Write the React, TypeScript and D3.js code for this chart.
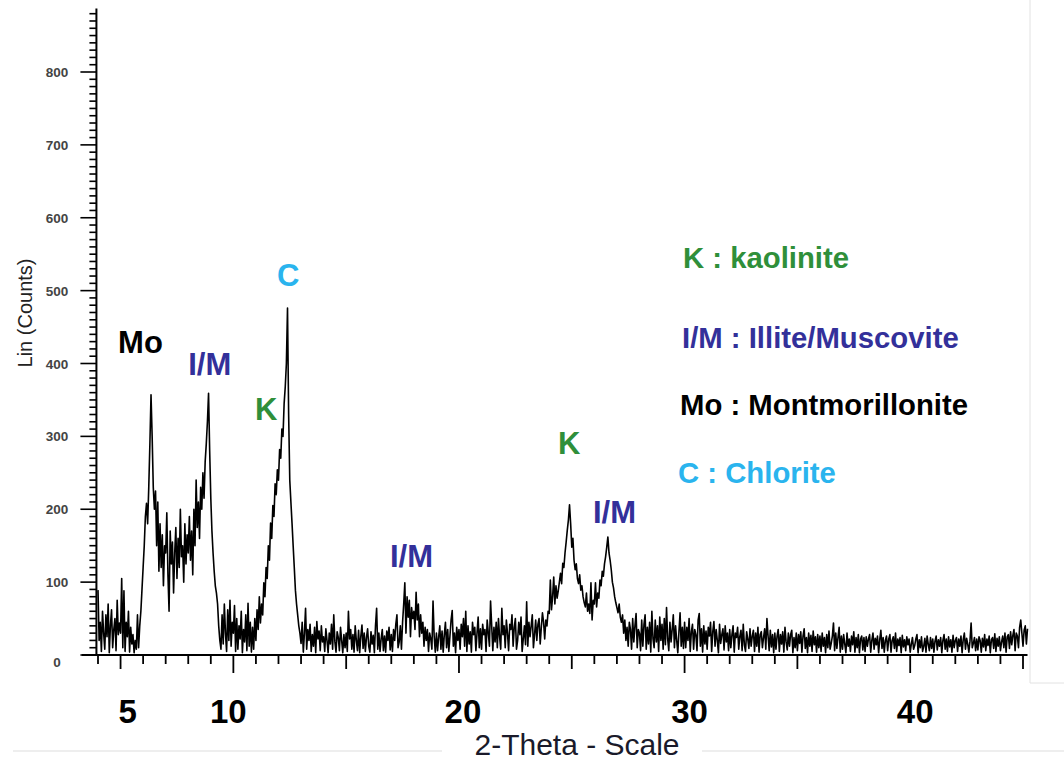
import React from "react";
import * as d3 from "d3";

// XRD pattern: Lin (Counts) sampled every 0.05° 2θ starting at 4.00°
const THETA_START = 4.0;
const THETA_STEP = 0.05;
const counts: number[] = [
  // 4
  89, 20, 45, 5, 60, 30, 8, 55, 25, 70, 3, 40, 62, 10, 35, 50, 6, 75, 28, 44,
  // 5
  30, 105, 10, 88, 5, 45, 25, 60, 4, 38, 15, 28, 3, 20, 8, 55, 10, 40, 60, 90,
  // 6
  120, 150, 190, 208, 180, 230, 290, 357, 300, 230, 200, 225, 150, 210, 115, 180, 120, 165, 95, 150,
  // 7
  140, 195, 110, 60, 170, 125, 155, 85, 140, 175, 105, 160, 120, 200, 135, 150, 100, 180, 125, 165,
  // 8
  140, 190, 130, 170, 110, 200, 150, 240, 175, 210, 160, 230, 200, 250, 215, 265, 290, 320, 359, 280,
  // 9
  215, 170, 140, 115, 95, 85, 70, 40, 20, 8, 55, 15, 70, 30, 5, 62, 20, 75, 12, 45,
  // 10
  30, 68, 5, 50, 8, 40, 22, 60, 3, 35, 18, 55, 6, 71, 12, 45, 4, 38, 8, 50,
  // 11
  20, 62, 35, 80, 44, 70, 55, 99, 80, 120, 105, 150, 130, 181, 160, 205, 190, 235, 220, 254,
  // 12
  240, 282, 270, 310, 300, 345, 368, 400, 476, 330, 240, 210, 181, 150, 120, 89, 70, 55, 40, 30,
  // 13
  16, 45, 4, 30, 64, 8, 35, 20, 42, 5, 28, 12, 38, 3, 46, 22, 33, 6, 40, 18,
  // 14
  25, 5, 36, 20, 3, 30, 15, 42, 8, 55, 18, 4, 32, 24, 6, 38, 20, 3, 28, 10,
  // 15
  30, 5, 60, 22, 35, 8, 28, 4, 40, 20, 6, 34, 3, 26, 41, 9, 30, 5, 24, 36,
  // 16
  12, 4, 32, 15, 27, 3, 40, 64, 8, 30, 5, 22, 35, 6, 26, 4, 33, 20, 38, 7,
  // 17
  28, 5, 35, 20, 42, 55, 10, 18, 40, 8, 45, 70, 99, 30, 80, 52, 75, 25, 65, 50,
  // 18
  60, 35, 86, 48, 70, 25, 55, 30, 45, 12, 38, 20, 35, 5, 30, 22, 8, 74, 26, 4,
  // 19
  30, 6, 25, 40, 8, 33, 4, 28, 45, 10, 35, 5, 26, 48, 61, 12, 30, 3, 38, 20,
  // 20
  35, 8, 42, 25, 50, 12, 60, 5, 40, 15, 32, 4, 45, 28, 38, 6, 30, 52, 10, 36,
  // 21
  8, 42, 28, 35, 5, 48, 30, 12, 74, 40, 6, 38, 18, 45, 10, 50, 25, 8, 64, 28,
  // 22
  40, 10, 48, 30, 6, 42, 35, 55, 12, 38, 50, 8, 20, 45, 28, 52, 5, 22, 40, 14,
  // 23
  73, 12, 45, 25, 40, 55, 10, 28, 48, 20, 42, 50, 15, 38, 58, 45, 22, 48, 40, 60,
  // 24
  57, 103, 62, 80, 107, 70, 95, 78, 88, 100, 112, 98, 126, 120, 140, 155, 171, 185, 206, 180,
  // 25
  148, 160, 130, 117, 125, 105, 98, 110, 89, 95, 80, 72, 66, 85, 60, 70, 57, 99, 48, 75,
  // 26
  70, 99, 66, 85, 78, 103, 95, 115, 108, 125, 135, 148, 162, 140, 130, 117, 100, 92, 80, 72,
  // 27
  65, 58, 70, 52, 45, 55, 30, 48, 20, 38, 12, 45, 35, 8, 50, 18, 40, 57, 10, 35,
  // 28
  30, 6, 48, 12, 42, 55, 8, 38, 15, 45, 4, 60, 22, 10, 48, 18, 40, 5, 52, 20,
  // 29
  42, 8, 50, 14, 65, 22, 6, 45, 18, 35, 55, 10, 40, 20, 3, 32, 58, 12, 38, 9,
  // 30
  45, 10, 38, 20, 50, 5, 32, 42, 8, 35, 28, 6, 48, 57, 12, 36, 4, 40, 15, 33,
  // 31
  8, 38, 26, 45, 5, 32, 46, 12, 35, 20, 3, 42, 16, 28, 36, 7, 40, 18, 30, 6,
  // 32
  35, 10, 28, 40, 4, 30, 24, 38, 8, 26, 34, 6, 42, 14, 5, 32, 22, 9, 36, 12,
  // 33
  26, 34, 5, 30, 12, 38, 4, 28, 32, 10, 24, 36, 8, 50, 26, 6, 34, 11, 28, 3,
  // 34
  30, 8, 26, 35, 5, 28, 15, 32, 4, 38, 18, 7, 30, 12, 28, 34, 3, 24, 10, 30,
  // 35
  6, 28, 16, 32, 4, 26, 36, 9, 24, 3, 30, 12, 27, 5, 33, 14, 25, 4, 28, 10,
  // 36
  26, 5, 30, 12, 24, 3, 28, 10, 33, 8, 16, 26, 44, 6, 30, 9, 24, 38, 4, 26,
  // 37
  8, 28, 15, 3, 30, 12, 22, 5, 26, 14, 32, 4, 24, 10, 28, 3, 22, 26, 7, 24,
  // 38
  5, 25, 12, 22, 28, 4, 20, 30, 8, 23, 14, 26, 3, 21, 34, 9, 24, 4, 20, 26,
  // 39
  6, 22, 28, 4, 20, 25, 9, 30, 5, 22, 13, 24, 3, 27, 11, 21, 6, 25, 14, 22,
  // 40
  4, 15, 24, 8, 13, 22, 28, 3, 21, 10, 25, 5, 12, 23, 4, 26, 15, 6, 24, 9,
  // 41
  22, 4, 19, 26, 7, 21, 12, 24, 3, 20, 28, 8, 22, 5, 25, 11, 21, 4, 27, 10,
  // 42
  20, 24, 5, 22, 12, 26, 3, 21, 30, 8, 23, 15, 4, 19, 44, 10, 16, 24, 6, 22,
  // 43
  7, 25, 20, 4, 23, 11, 28, 6, 22, 13, 26, 3, 21, 24, 9, 29, 5, 23, 12, 25,
  // 44
  6, 18, 26, 10, 30, 4, 25, 28, 9, 32, 14, 27, 35, 6, 30, 26, 10, 38, 48, 30,
  // 45
  12, 34, 40, 15, 36,
];

const xTickLabels = [5, 10, 20, 30, 40];
const yTickLabels = [0, 100, 200, 300, 400, 500, 600, 700, 800];

const peakLabels = [
  { text: "Mo", mineral: "Mo", theta: 4.89, count: 414 },
  { text: "I/M", mineral: "I/M", theta: 8.0, count: 384 },
  { text: "C", mineral: "C", theta: 11.93, count: 507 },
  { text: "K", mineral: "K", theta: 10.96, count: 322 },
  { text: "I/M", mineral: "I/M", theta: 16.94, count: 121 },
  { text: "K", mineral: "K", theta: 24.39, count: 276 },
  { text: "I/M", mineral: "I/M", theta: 25.94, count: 181 },
];

const legendEntries = [
  { mineral: "K", label: "K : kaolinite" },
  { mineral: "I/M", label: "I/M : Illite/Muscovite" },
  { mineral: "Mo", label: "Mo : Montmorillonite" },
  { mineral: "C", label: "C : Chlorite" },
];

const mineralColors: Record<string, string> = {
  K: "#2f8f3a",
  "I/M": "#33309a",
  Mo: "#000000",
  C: "#2ab4ee",
};

const FONT = "'Liberation Sans', Arial, Helvetica, sans-serif";

export default function App() {
  const W = 1064;
  const H = 762;
  const x = d3.scaleLinear().domain([4, 45]).range([98, 1023]);
  const y = d3.scaleLinear().domain([0, 800]).range([655, 72]);

  const data = counts.map((c, i) => ({ t: THETA_START + i * THETA_STEP, c }));
  const line = d3
    .line<{ t: number; c: number }>()
    .x((d) => x(d.t))
    .y((d) => y(d.c));

  const xMinor = d3.range(4, 46, 1);
  const yMinor = d3.range(0, 890, 10);
  const axisLeft = x(3.93);
  const yTop = y(887);

  const legendPos = [
    { x: 683, y: 268 },
    { x: 682, y: 348 },
    { x: 680, y: 415 },
    { x: 678, y: 483 },
  ];
  const xLabelNudge: Record<number, number> = { 5: 7, 10: -5, 20: 4, 30: 5, 40: 5 };

  return (
    <svg
      width={W}
      height={H}
      viewBox={`0 0 ${W} ${H}`}
      style={{ position: "absolute", left: 0, top: 0, background: "#fff" }}
    >
      <rect x={0} y={0} width={W} height={H} fill="#fff" />
      {/* faint frame lines from the source image */}
      <line x1={1030} y1={0} x2={1030} y2={683} stroke="#e2e2e2" strokeWidth={1} />
      <line x1={1030} y1={683} x2={1064} y2={683} stroke="#e2e2e2" strokeWidth={1} />
      <line x1={13} y1={751} x2={442} y2={751} stroke="#dddddd" strokeWidth={1} />
      <line x1={702} y1={751} x2={1064} y2={751} stroke="#dddddd" strokeWidth={1} />

      {/* data */}
      <path d={line(data) || ""} fill="none" stroke="#000" strokeWidth={1.6} strokeLinejoin="round" />

      {/* y axis */}
      <line x1={axisLeft} y1={yTop} x2={axisLeft} y2={y(0)} stroke="#000" strokeWidth={2} />
      {yMinor.map((v) => (
        <line
          key={"ym" + v}
          x1={axisLeft - (v % 100 === 0 ? 16 : 7)}
          x2={axisLeft}
          y1={y(v)}
          y2={y(v)}
          stroke="#000"
          strokeWidth={1.6}
        />
      ))}
      {yTickLabels.map((v) => (
        <text
          key={"yl" + v}
          x={57}
          y={y(v) + (v === 0 ? 12 : 5)}
          textAnchor="middle"
          fontFamily={FONT}
          fontSize={13.5}
          fontWeight="bold"
          fill="#444"
        >
          {v}
        </text>
      ))}
      <text
        transform={`translate(32, 313) rotate(-90)`}
        textAnchor="middle"
        fontFamily={FONT}
        fontSize={20}
        fill="#222"
      >
        Lin (Counts)
      </text>

      {/* x axis */}
      <line x1={82} y1={y(0)} x2={x(45.2)} y2={y(0)} stroke="#000" strokeWidth={2} />
      {xMinor.map((v) => (
        <line
          key={"xm" + v}
          x1={x(v)}
          x2={x(v)}
          y1={y(0)}
          y2={y(0) + (v % 10 === 0 ? 18 : v % 5 === 0 ? 14 : 9)}
          stroke="#000"
          strokeWidth={1.8}
        />
      ))}
      {xTickLabels.map((v) => (
        <text
          key={"xl" + v}
          x={x(v) + (xLabelNudge[v] || 0)}
          y={723}
          textAnchor="middle"
          fontFamily={FONT}
          fontSize={33}
          fontWeight="bold"
          fill="#000"
        >
          {v}
        </text>
      ))}
      <text x={577} y={755} textAnchor="middle" fontFamily={FONT} fontSize={30} fill="#1a1a2a">
        2-Theta - Scale
      </text>

      {/* peak annotations */}
      {peakLabels.map((p, i) => (
        <text
          key={"pk" + i}
          x={x(p.theta)}
          y={y(p.count)}
          fontFamily={FONT}
          fontSize={31}
          fontWeight="bold"
          fill={mineralColors[p.mineral]}
        >
          {p.text}
        </text>
      ))}

      {/* legend */}
      {legendEntries.map((e, i) => (
        <text
          key={"lg" + i}
          x={legendPos[i].x}
          y={legendPos[i].y}
          fontFamily={FONT}
          fontSize={29.3}
          fontWeight="bold"
          fill={mineralColors[e.mineral]}
        >
          {e.label}
        </text>
      ))}
    </svg>
  );
}
